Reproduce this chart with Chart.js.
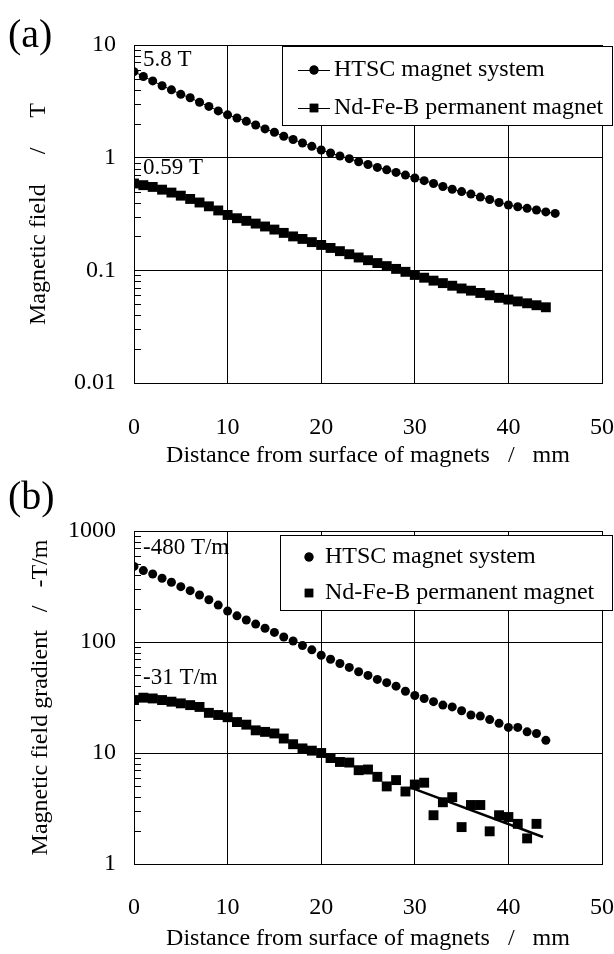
<!DOCTYPE html>
<html>
<head>
<meta charset="utf-8">
<script src="https://cdn.jsdelivr.net/npm/chart.js@4.4.1/dist/chart.umd.min.js"></script>
<style>
  body { margin: 0; background: #fff; width: 614px; height: 954px; position: relative; overflow: hidden; font-family: "Liberation Serif", serif; }
  .panel { position: absolute; left: 0; width: 614px; }
  .tag { position: absolute; left: 8px; font-size: 40px; line-height: 1; color: #000; }
</style>
</head>
<body>
<div class="panel" style="top:0;height:480px"><canvas id="fieldChart"></canvas></div>
<div class="panel" style="top:480px;height:474px"><canvas id="gradChart"></canvas></div>
<div class="tag" style="top:14px">(a)</div>
<div class="tag" style="top:476px">(b)</div>
<script>
// distance from magnet surface, mm
const xHtscField = [0,1,2,3,4,5,6,7,8,9,10,11,12,13,14,15,16,17,18,19,20,21,22,23,24,25,26,27,28,29,30,31,32,33,34,35,36,37,38,39,40,41,42,43,44,45];
const fieldHtsc = [5.8,5.25,4.8,4.35,4.0,3.65,3.4,3.1,2.85,2.6,2.4,2.25,2.1,1.95,1.8,1.68,1.55,1.45,1.35,1.26,1.17,1.1,1.035,0.98,0.92,0.87,0.82,0.78,0.74,0.70,0.66,0.625,0.59,0.555,0.525,0.50,0.475,0.447,0.425,0.40,0.38,0.367,0.355,0.343,0.33,0.32];

const xNdField = [0,1,2,3,4,5,6,7,8,9,10,11,12,13,14,15,16,17,18,19,20,21,22,23,24,25,26,27,28,29,30,31,32,33,34,35,36,37,38,39,40,41,42,43,44];
const fieldNd = [0.59,0.57,0.55,0.52,0.49,0.46,0.43,0.40,0.37,0.34,0.31,0.29,0.275,0.26,0.245,0.23,0.215,0.20,0.19,0.178,0.168,0.158,0.148,0.139,0.13,0.123,0.116,0.109,0.103,0.097,0.091,0.086,0.081,0.077,0.073,0.069,0.066,0.063,0.06,0.057,0.055,0.053,0.051,0.049,0.047];

const xHtscGrad = [0,1,2,3,4,5,6,7,8,9,10,11,12,13,14,15,16,17,18,19,20,21,22,23,24,25,26,27,28,29,30,31,32,33,34,35,36,37,38,39,40,41,42,43,44];
const gradHtsc = [480,440,410,375,345,315,290,265,240,215,190,172,158,145,133,122,111,102,93,85,76,70,64,59,54,50,46,43,40,36,33,31,29,27,26,24,22,21.5,20,18.5,17,17,15.5,15,13];

const xNdGrad = [0,1,2,3,4,5,6,7,8,9,10,11,12,13,14,15,16,17,18,19,20,21,22,23,24,25,26,27,28,29,30,31,32,33,34,35,36,37,38,39,40,41,42,43];
const gradNd = [30,31.5,31,30,29,28,27,26,23,22,21,19,18,16,15.5,15,13.5,12,11,10.5,10,9,8.3,8.2,7,7.1,6.1,5.0,5.7,4.5,5.2,5.4,2.75,3.6,4.0,2.15,3.4,3.4,1.97,2.75,2.65,2.3,1.7,2.3];

// fitted line through the Nd-Fe-B gradient tail
const xFit = [29.5, 43.7];
const gradFit = [4.9, 1.75];

const xTicks = [0, 10, 20, 30, 40, 50];
const fieldDecades = [0.01, 0.1, 1, 10];
const gradDecades = [1, 10, 100, 1000];

const labelHtsc = 'HTSC magnet system';
const labelNd = 'Nd-Fe-B permanent magnet';

const SERIF = '"Liberation Serif", "Times New Roman", serif';

function pts(xs, ys) {
    return ys.map((y, i) => ({ x: xs[i], y: y }));
}

function isDecade(v, decades) {
    return decades.some(d => Math.abs(v - d) / d < 1e-6);
}

function decadeTicks(decades) {
    const out = [];
    decades.forEach((d, i) => {
        out.push({ value: d });
        if (i < decades.length - 1) {
            for (let k = 2; k <= 9; k++) out.push({ value: d * k });
        }
    });
    return out;
}

// short inward ticks at 2..9 on the left axis, text notes and the boxed legend
const extras = {
    id: 'extras',
    afterDraw(chart, args, opts) {
        const ctx = chart.ctx;
        const y = chart.scales.y;
        const area = chart.chartArea;
        ctx.save();
        ctx.strokeStyle = '#000';
        ctx.lineWidth = 1;
        y.ticks.forEach(t => {
            if (isDecade(t.value, opts.decades)) return;
            const py = Math.round(y.getPixelForValue(t.value)) + 0.5;
            ctx.beginPath();
            ctx.moveTo(area.left, py);
            ctx.lineTo(area.left + 7, py);
            ctx.stroke();
        });
        ctx.fillStyle = '#000';
        ctx.font = '23px ' + SERIF;
        ctx.textBaseline = 'middle';
        ctx.textAlign = 'left';
        opts.notes.forEach(n => {
            ctx.fillText(n.text, area.left + 9, y.getPixelForValue(n.at));
        });

        const L = opts.legend;
        ctx.fillStyle = '#fff';
        ctx.fillRect(L.left, L.top, L.right - L.left, L.bottom - L.top);
        ctx.strokeStyle = '#000';
        ctx.lineWidth = 1;
        ctx.strokeRect(L.left + 0.5, L.top + 0.5, L.right - L.left, L.bottom - L.top);
        ctx.font = '24px ' + SERIF;
        L.rows.forEach((cy, i) => {
            const ds = chart.data.datasets[i];
            if (L.line) {
                ctx.beginPath();
                ctx.moveTo(L.markX - 16, cy + 0.5);
                ctx.lineTo(L.markX + 16, cy + 0.5);
                ctx.stroke();
            }
            ctx.fillStyle = '#000';
            Chart.helpers.drawPoint(ctx, {
                pointStyle: ds.pointStyle,
                radius: ds.pointStyle === 'rect' ? 6 : 4.5,
                rotation: 0
            }, L.markX, cy);
            ctx.fill();
            ctx.fillText(ds.label, L.textX, cy);
        });
        ctx.restore();
    }
};

function makeOptions(decades, xTitle, yTitle, cfg) {
    return {
        responsive: true,
        maintainAspectRatio: false,
        animation: false,
        layout: { padding: { left: 0, right: 12, top: cfg.top, bottom: 0 } },
        plugins: {
            legend: { display: false },
            tooltip: { enabled: false },
            extras: cfg
        },
        scales: {
            x: {
                type: 'linear',
                min: 0,
                max: 50,
                afterBuildTicks: s => { s.ticks = xTicks.map(v => ({ value: v })); },
                afterFit: s => { s.height = cfg.xHeight; s.paddingLeft = 0; s.paddingRight = 0; },
                grid: { color: '#000', lineWidth: 1, drawTicks: false },
                border: { color: '#000', width: 1 },
                ticks: { color: '#000', padding: cfg.xPad, font: { family: SERIF, size: 24 } },
                title: {
                    display: true,
                    text: xTitle,
                    color: '#000',
                    font: { family: SERIF, size: 24 },
                    padding: { top: 0, bottom: cfg.xTitlePad }
                }
            },
            y: {
                type: 'logarithmic',
                min: decades[0],
                max: decades[decades.length - 1],
                afterBuildTicks: s => { s.ticks = decadeTicks(decades); },
                afterFit: s => { s.width = 134; },
                grid: {
                    color: c => (c.tick && isDecade(c.tick.value, decades)) ? '#000' : 'rgba(0,0,0,0)',
                    lineWidth: 1,
                    drawTicks: false
                },
                border: { color: '#000', width: 1 },
                ticks: {
                    autoSkip: false,
                    color: '#000',
                    padding: 18,
                    font: { family: SERIF, size: 24 },
                    callback: v => isDecade(v, decades) ? String(v) : ''
                },
                title: {
                    display: true,
                    text: yTitle,
                    color: '#000',
                    font: { family: SERIF, size: 24 },
                    padding: { top: cfg.yTitlePad, bottom: 0 }
                }
            }
        }
    };
}

new Chart(document.getElementById('fieldChart'), {
    type: 'scatter',
    data: {
        datasets: [
            {
                label: labelHtsc,
                data: pts(xHtscField, fieldHtsc),
                showLine: true,
                borderColor: '#000',
                borderWidth: 1,
                backgroundColor: '#000',
                pointStyle: 'circle',
                pointRadius: 4.5,
                pointBorderWidth: 0
            },
            {
                label: labelNd,
                data: pts(xNdField, fieldNd),
                showLine: true,
                borderColor: '#000',
                borderWidth: 1,
                backgroundColor: '#000',
                pointStyle: 'rect',
                pointRadius: 7,
                pointBorderWidth: 0
            }
        ]
    },
    plugins: [extras],
    options: makeOptions(fieldDecades, 'Distance from surface of magnets   /   mm', 'Magnetic field     /     T', {
        top: 45,
        xHeight: 97,
        xPad: 30,
        xTitlePad: 10,
        yTitlePad: 24,
        decades: fieldDecades,
        notes: [{ text: '5.8 T', at: 7.36 }, { text: '0.59 T', at: 0.81 }],
        legend: { left: 282, top: 46, right: 612, bottom: 125, rows: [70, 108], markX: 314, textX: 334, line: true }
    })
});

new Chart(document.getElementById('gradChart'), {
    type: 'scatter',
    data: {
        datasets: [
            {
                label: labelHtsc,
                data: pts(xHtscGrad, gradHtsc),
                showLine: false,
                backgroundColor: '#000',
                pointStyle: 'circle',
                pointRadius: 4.5,
                pointBorderWidth: 0
            },
            {
                label: labelNd,
                data: pts(xNdGrad, gradNd),
                showLine: false,
                backgroundColor: '#000',
                pointStyle: 'rect',
                pointRadius: 7,
                pointBorderWidth: 0
            },
            {
                data: pts(xFit, gradFit),
                showLine: true,
                borderColor: '#000',
                borderWidth: 2.5,
                pointRadius: 0
            }
        ]
    },
    plugins: [extras],
    options: makeOptions(gradDecades, 'Distance from surface of magnets   /   mm', 'Magnetic field gradient   /   -T/m', {
        top: 51,
        xHeight: 90,
        xPad: 29,
        xTitlePad: 1,
        yTitlePad: 26,
        decades: gradDecades,
        notes: [{ text: '-480 T/m', at: 703 }, { text: '-31 T/m', at: 47.5 }],
        legend: { left: 280, top: 55, right: 612, bottom: 130, rows: [77, 113], markX: 309, textX: 325, line: false }
    })
});
</script>
</body>
</html>
